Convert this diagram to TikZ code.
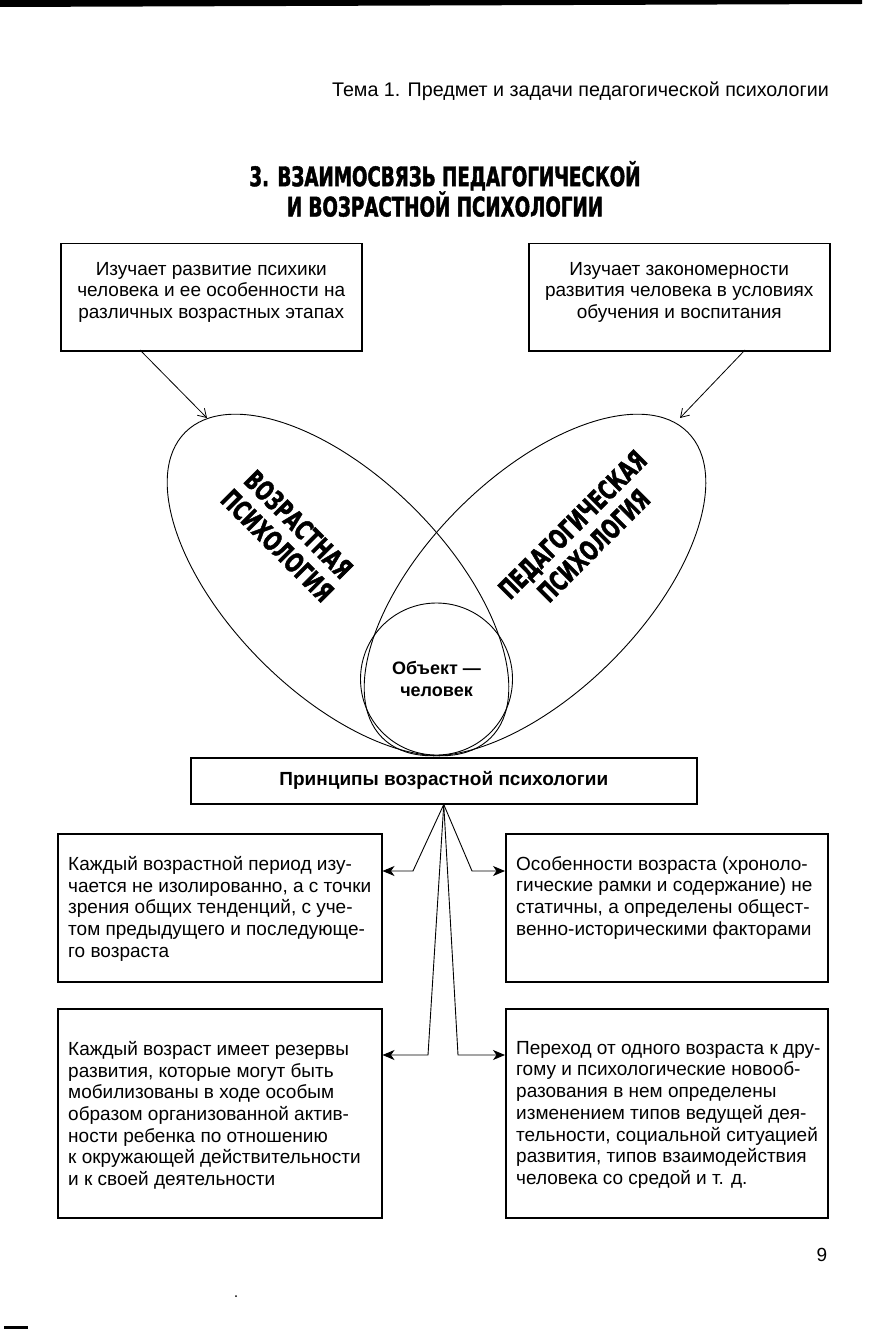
\documentclass[tikz,border=0pt]{standalone}
\usepackage{fontspec}
\setmainfont{Liberation Sans}
\newfontfamily\heavyfont{DejaVu Sans}[FakeStretch=0.676,BoldFeatures={FakeBold=1.6}]
\usetikzlibrary{arrows.meta,shapes.geometric,calc}
\begin{document}
\begin{tikzpicture}[x=1pt,y=-1pt,
  box/.style={draw,line width=1.5pt,inner sep=0pt,anchor=north west},
  body/.style={inner sep=0pt,font=\fontsize{19}{21.7}\selectfont},
  heavy/.style={inner sep=0pt,font=\heavyfont\bfseries\fontsize{27}{30}\selectfont},
  con/.style={line width=0.9pt,-{Stealth[length=12pt,width=10pt,inset=3.5pt]}},
  toparr/.style={line width=0.8pt,-{Straight Barb[length=8pt,width=10pt]}},
  oval/.style={draw,ellipse,line width=0.9pt,inner sep=0pt,minimum width=432pt,minimum height=216pt}
]
\fill[white] (0,0) rectangle (884,1332);
\useasboundingbox (0,0) rectangle (884,1332);

% top rule and header
\fill (0,0) -- (862,0) -- (862,4) -- (0,7) -- cycle;
\node[anchor=base east,inner sep=0pt,font=\fontsize{19.7}{22}\selectfont] (hdr) at (829,97)
  {Тема 1. Предмет и задачи педагогической психологии};

% title
\node[heavy,align=center,font=\heavyfont\bfseries\fontsize{27}{27}\selectfont] (ttl) at (445,189)
  {3. ВЗАИМОСВЯЗЬ ПЕДАГОГИЧЕСКОЙ\\И ВОЗРАСТНОЙ ПСИХОЛОГИИ};

% top boxes
\node[box,minimum width=301pt,minimum height=107pt] (b1) at (60,243) {};
\node[box,minimum width=301pt,minimum height=107pt] (b2) at (528,243) {};
\node[body,align=center] (t1) at ($(b1.center)+(0,-5)$)
  {Изучает развитие психики\\человека и ее особенности на\\различных возрастных этапах};
\node[body,align=center] (t2) at ($(b2.center)+(0,-5)$)
  {Изучает закономерности\\развития человека в условиях\\обучения и воспитания};

% ellipses and circle
\node[oval,rotate=-45] (eL) at (338,585) {};
\node[oval,rotate=45] (eR) at (535,585) {};
\node[draw,circle,line width=0.9pt,minimum size=152pt,inner sep=0pt,align=center,
  font=\bfseries\fontsize{18}{22}\selectfont] (obj) at (436.5,679) {Объект —\\человек};

\node[heavy,rotate=-45,align=center] (vp) at (288,535) {ВОЗРАСТНАЯ\\ПСИХОЛОГИЯ};
\node[heavy,rotate=45,align=center] (pp) at (583,535) {ПЕДАГОГИЧЕСКАЯ\\ПСИХОЛОГИЯ};

% arrows from top boxes
\coordinate (s1) at (140,350);
\coordinate (e1) at (207,418);
\coordinate (s2) at (745,350);
\coordinate (e2) at (680,418);
\draw[toparr] (s1) -- (e1);
\draw[toparr] (s2) -- (e2);

% principles box
\node[box,minimum width=506pt,minimum height=46pt] (P) at (190,757) {};
\node[inner sep=0pt,font=\bfseries\fontsize{19}{22}\selectfont] (Pt) at (P.center) {Принципы возрастной психологии};

% lower boxes
\node[box,minimum width=324pt,minimum height=148pt] (b3) at (57,833) {};
\node[box,minimum width=322pt,minimum height=148pt] (b4) at (505,833) {};
\node[box,minimum width=324pt,minimum height=209pt] (b5) at (57,1008) {};
\node[box,minimum width=322pt,minimum height=209pt] (b6) at (505,1008) {};

\node[body,align=left,anchor=north west] (t3) at ($(b3.north west)+(11,23)$)
  {Каждый возрастной период изу-\\чается не изолированно, а с точки\\зрения общих тенденций, с уче-\\том предыдущего и последующе-\\го возраста};
\node[body,align=left,anchor=north west] (t4) at ($(b4.north west)+(11,23)$)
  {Особенности возраста (хроноло-\\гические рамки и содержание) не\\статичны, а определены общест-\\венно-историческими факторами};
\node[body,align=left,anchor=north west] (t5) at ($(b5.north west)+(11,33)$)
  {Каждый возраст имеет резервы\\развития, которые могут быть\\мобилизованы в ходе особым\\образом организованной актив-\\ности ребенка по отношению\\к окружающей действительности\\и к своей деятельности};
\node[body,align=left,anchor=north west] (t6) at ($(b6.north west)+(11,33)$)
  {Переход от одного возраста к дру-\\гому и психологические новооб-\\разования в нем определены\\изменением типов ведущей дея-\\тельности, социальной ситуацией\\развития, типов взаимодействия\\человека со средой и т. д.};

% connectors
\coordinate (k1) at (413,871);
\coordinate (k2) at (472,871);
\coordinate (k3) at (428,1055);
\coordinate (k4) at (458,1055);
\draw[con] (P.south) -- (k1) -- (k1 -| b3.east);
\draw[con] (P.south) -- (k2) -- (k2 -| b4.west);
\draw[con] (P.south) -- (k3) -- (k3 -| b5.east);
\draw[con] (P.south) -- (k4) -- (k4 -| b6.west);

% page number and marks
\node[inner sep=0pt,font=\fontsize{19}{22}\selectfont] (pg) at (822,1255) {9};
\fill (236,1296) circle (1pt);
\draw[line width=3pt] (4,1327) -- (28,1327);
\end{tikzpicture}
\end{document}
